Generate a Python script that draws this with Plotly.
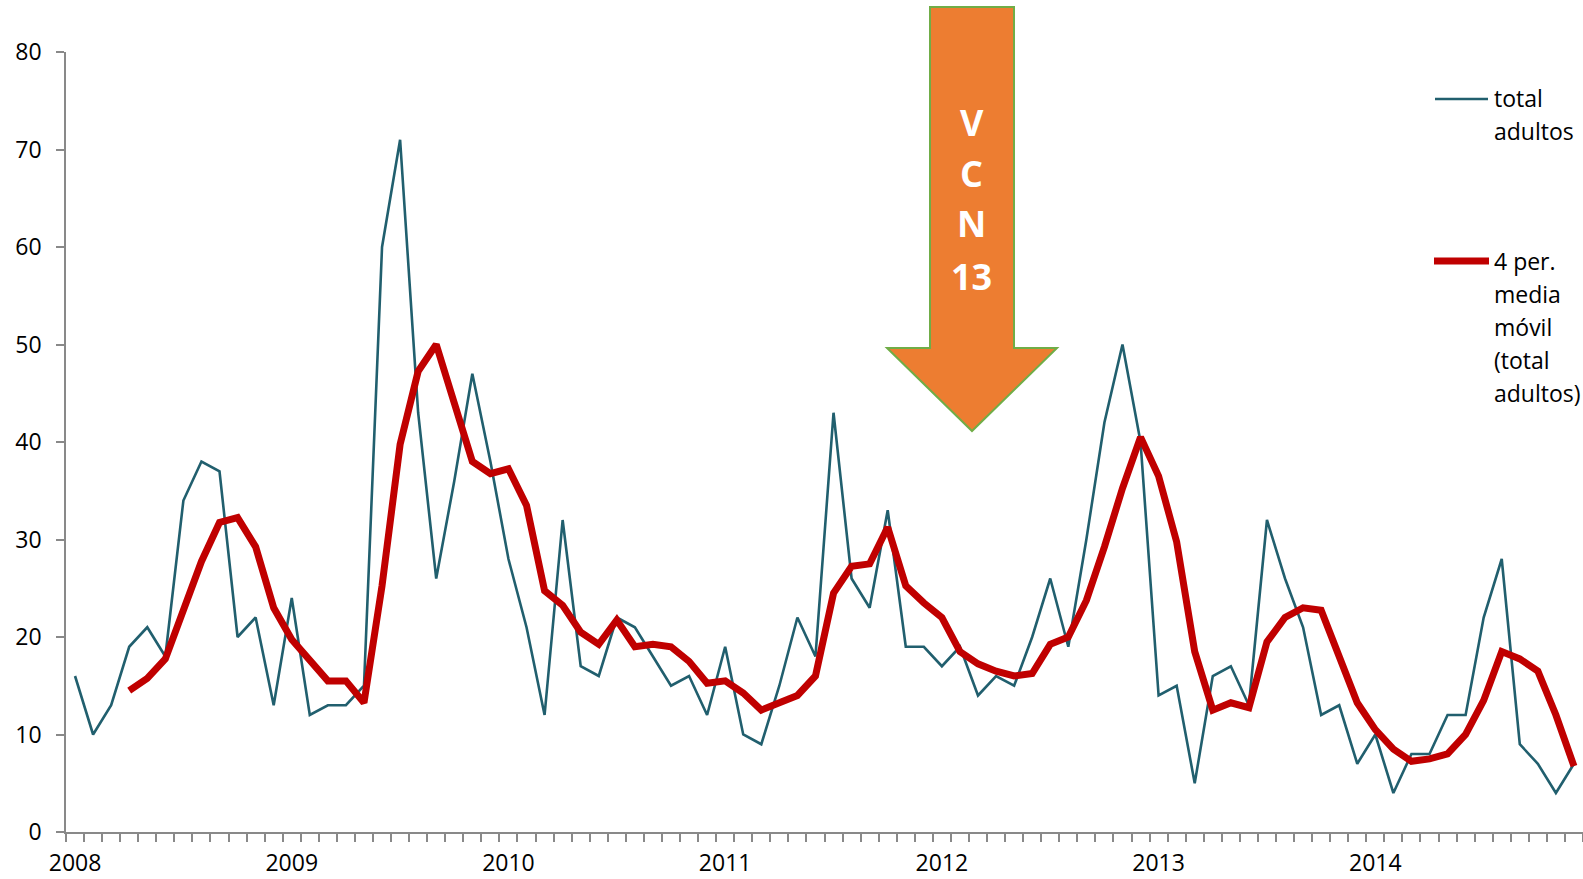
import plotly.graph_objects as go

# ---- data ----
years = ["2008", "2009", "2010", "2011", "2012", "2013", "2014"]
total_adultos = [16, 10, 13, 19, 21, 18, 34, 38, 37, 20, 22, 13,
                 24, 12, 13, 13, 15, 60, 71, 43, 26, 36, 47, 38,
                 28, 21, 12, 32, 17, 16, 22, 21, 18, 15, 16, 12,
                 19, 10, 9, 15, 22, 18, 43, 26, 23, 33, 19, 19,
                 17, 19, 14, 16, 15, 20, 26, 19, 30, 42, 50, 40,
                 14, 15, 5, 16, 17, 13, 32, 26, 21, 12, 13, 7,
                 10, 4, 8, 8, 12, 12, 22, 28, 9, 7, 4, 7]
media_movil = [None, None, None, 14.5, 15.75, 17.75, 23, 27.75, 31.75, 32.25, 29.25, 23,
               19.75, 17.75, 15.5, 15.5, 13.25, 25.25, 39.75, 47.25, 50, 44, 38, 36.75,
               37.25, 33.5, 24.75, 23.25, 20.5, 19.25, 21.75, 19, 19.25, 19, 17.5, 15.25,
               15.5, 14.25, 12.5, 13.25, 14, 16, 24.5, 27.25, 27.5, 31.25, 25.25, 23.5,
               22, 18.5, 17.25, 16.5, 16, 16.25, 19.25, 20, 23.75, 29.25, 35.25, 40.5,
               36.5, 29.75, 18.5, 12.5, 13.25, 12.75, 19.5, 22, 23, 22.75, 18, 13.25,
               10.5, 8.5, 7.25, 7.5, 8, 10, 13.5, 18.5, 17.75, 16.5, 12, 6.75]
name_total = "total<br>adultos"
name_mm = "4 per.<br>media<br>móvil<br>(total<br>adultos)"
arrow_text = ["V", "C", "N", "13"]

# ---- layout constants ----
W, H = 1583, 879
ML, MR, MT, MB = 66, 0, 52, 47
FONT = "Open Sans"
FS = 23
TEAL = "#215F6E"
RED = "#C00000"
AXIS = "#898989"

n = len(total_adultos)
x = list(range(n))


def px(xp):
    return (xp - ML) / (W - ML - MR)


def py(yp):
    return (H - MB - yp) / (H - MT - MB)


fig = go.Figure()
fig.add_trace(go.Scatter(x=x, y=total_adultos, mode="lines", name=name_total,
                         line=dict(color=TEAL, width=2.6), showlegend=False))
fig.add_trace(go.Scatter(x=x, y=media_movil, mode="lines", name=name_mm,
                         line=dict(color=RED, width=7), showlegend=False))

shapes = []
annotations = []

# arrow (VCN 13)
pts = [(930, 7), (1014, 7), (1014, 348), (1057, 348), (972, 431), (887, 348), (930, 348)]
path = "M " + " L ".join(f"{px(a):.5f},{py(b):.5f}" for a, b in pts) + " Z"
shapes.append(dict(type="path", xref="paper", yref="paper", path=path,
                   fillcolor="#ED7D31", line=dict(color="#70AD47", width=2), layer="above"))
for t, yy in zip(arrow_text, [123, 174, 224, 277]):
    annotations.append(dict(xref="paper", yref="paper", x=px(972), y=py(yy - 1), text=f"<b>{t}</b>",
                            showarrow=False, xanchor="center", yanchor="middle",
                            font=dict(family=FONT, size=36, color="white")))

# legend (manual)
shapes.append(dict(type="line", xref="paper", yref="paper", x0=px(1435), x1=px(1488),
                   y0=py(99), y1=py(99), line=dict(color=TEAL, width=2.6)))
shapes.append(dict(type="line", xref="paper", yref="paper", x0=px(1434), x1=px(1489),
                   y0=py(261), y1=py(261), line=dict(color=RED, width=7)))
leg_lines = [(name_total.split("<br>"), 98), (name_mm.split("<br>"), 261)]
for lines, y0 in leg_lines:
    for i, t in enumerate(lines):
        annotations.append(dict(xref="paper", yref="paper", x=px(1492), y=py(y0 + 33 * i),
                                text=t, showarrow=False, xanchor="left", yanchor="middle",
                                font=dict(family=FONT, size=FS, color="black")))

fig.update_layout(
    width=W, height=H,
    margin=dict(l=ML, r=MR, t=MT, b=MB, pad=0, autoexpand=False),
    paper_bgcolor="white", plot_bgcolor="white",
    shapes=shapes, annotations=annotations,
    showlegend=False,
    font=dict(family=FONT, size=FS, color="black"),
)
fig.update_xaxes(
    range=[-0.5, n - 0.5], tickmode="array", automargin=False,
    tickvals=[12 * i for i in range(len(years))], ticktext=years,
    ticks="", showline=True, linecolor=AXIS, linewidth=1.5, showgrid=False, zeroline=False,
    tickfont=dict(family=FONT, size=FS, color="black"), ticklabelstandoff=10,
    minor=dict(tickmode="array", tickvals=[i - 0.5 for i in range(n + 1)], ticks="outside",
               ticklen=8, tickcolor=AXIS, tickwidth=1.5, showgrid=False),
)
fig.update_yaxes(
    range=[0, 80], dtick=10, tick0=0, ticks="outside", ticklen=8, tickcolor=AXIS, tickwidth=1.5,
    showline=True, linecolor=AXIS, linewidth=1.5, showgrid=False, zeroline=False, automargin=False,
    tickfont=dict(family=FONT, size=FS, color="black"), ticklabelstandoff=10,
)

fig.write_html("out.html", config={"displayModeBar": False},
               post_script="document.body.style.margin='0';document.body.style.overflow='hidden';")
